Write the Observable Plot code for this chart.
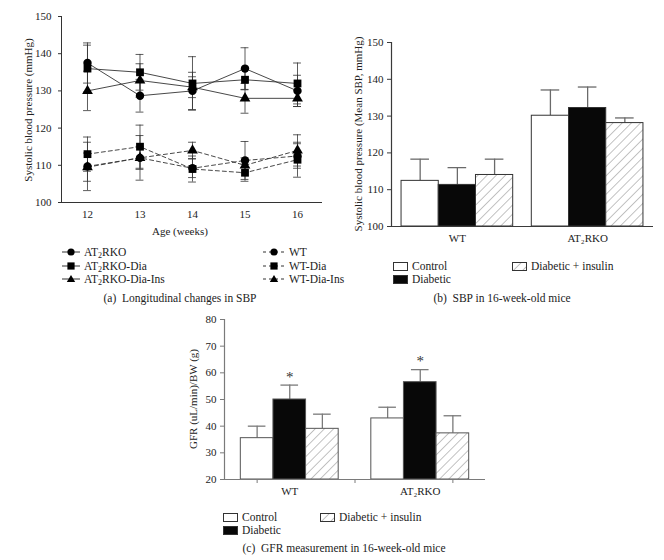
<!DOCTYPE html>
<html>
<head>
<meta charset="utf-8">
<script src="https://cdn.jsdelivr.net/npm/d3@7"></script>
<script src="https://cdn.jsdelivr.net/npm/@observablehq/plot@0.6"></script>
<style>
  html, body { margin: 0; padding: 0; background: #fff; }
  #root { position: relative; width: 664px; height: 560px; font-family: "Liberation Serif", "DejaVu Serif", serif; color: #222; overflow: hidden; }
  .ylab { position: absolute; white-space: nowrap; transform: translate(-50%, -50%) rotate(-90deg); font-size: 11px; font-family: "Liberation Serif", serif; }
  .cap { position: absolute; white-space: nowrap; transform: translate(-50%, -50%); font-size: 11.5px; font-family: "Liberation Serif", serif; }
  .leg { position: absolute; white-space: nowrap; font-size: 11.5px; line-height: 12px; transform: translateY(-50%); display: flex; align-items: center; font-family: "Liberation Serif", serif; }
  .leg svg { margin-right: 4px; }
  sub { font-size: 70%; vertical-align: -2px; line-height: 0; }
</style>
</head>
<body>
<svg width="0" height="0" style="position:absolute">
  <defs>
    <pattern id="hatch" patternUnits="userSpaceOnUse" width="6.5" height="6.5" patternTransform="rotate(45)">
      <rect width="6.5" height="6.5" fill="#fff"></rect>
      <line x1="0" y1="0" x2="0" y2="6.5" stroke="#7a7a7a" stroke-width="0.9"></line>
    </pattern>
  </defs>
</svg>
<div id="root"></div>
<script>
// ---------- Panel (a) data ----------
const weeks = [12, 13, 14, 15, 16];
const seriesNames = ["AT₂RKO", "AT₂RKO-Dia", "AT₂RKO-Dia-Ins", "WT", "WT-Dia", "WT-Dia-Ins"];
const seriesSymbols = ["circle", "square", "triangle", "circle", "square", "triangle"];
const seriesDashed = [false, false, false, true, true, true];
const sbpAT2RKO = [137.5, 128.7, 130, 136, 130];
const errAT2RKO = [5.4, 4.4, 5, 5.6, 4.2];
const sbpAT2RKODia = [136, 135, 132, 133, 132];
const errAT2RKODia = [6.3, 4.8, 7.2, 2.7, 5.5];
const sbpAT2RKODiaIns = [130, 132.8, 131, 128, 128];
const errAT2RKODiaIns = [5.3, 4.5, 2.8, 4, 2.2];
const sbpWT = [109.7, 112, 109.2, 111.3, 112.5];
const errWT = [6.5, 3.1, 2.5, 5.1, 3.3];
const sbpWTDia = [113, 115, 109, 108, 111.5];
const errWTDia = [4.6, 5.8, 3.5, 2.3, 4.7];
const sbpWTDiaIns = [109.5, 112, 114, 110, 114];
const errWTDiaIns = [3.8, 6, 2.2, 2, 4.2];
const yTicksA = [100, 110, 120, 130, 140, 150];

// ---------- Panels (b),(c) data ----------
const groups = ["WT", "AT₂RKO"];
const treatments = ["Control", "Diabetic", "Diabetic + insulin"];
const sbpWTbars = [112.4, 111.3, 114.0];
const sbpWTerr = [5.9, 4.7, 4.3];
const sbpKObars = [130.1, 132.2, 128.1];
const sbpKOerr = [7.0, 5.7, 1.4];
const yTicksB = [100, 110, 120, 130, 140, 150];

const gfrWT = [35.5, 50.0, 39.0];
const gfrWTerr = [4.5, 5.4, 5.5];
const gfrKO = [42.9, 56.5, 37.3];
const gfrKOerr = [4.2, 4.7, 6.6];
const gfrSignificant = [false, true, false];
const yTicksC = [20, 30, 40, 50, 60, 70, 80];

const fills = ["#fff", "#080808", "url(#hatch)"];

// ---------- build tables ----------
const seriesVals = [sbpAT2RKO, sbpAT2RKODia, sbpAT2RKODiaIns, sbpWT, sbpWTDia, sbpWTDiaIns];
const seriesErrs = [errAT2RKO, errAT2RKODia, errAT2RKODiaIns, errWT, errWTDia, errWTDiaIns];
const rowsA = [];
seriesNames.forEach((s, i) => weeks.forEach((w, j) => rowsA.push({
  series: s, symbol: seriesSymbols[i], dashed: seriesDashed[i], week: w, v: seriesVals[i][j], e: seriesErrs[i][j]
})));

function barRows(vals1, errs1, vals2, errs2, groupGap, sig) {
  const out = [];
  [[vals1, errs1], [vals2, errs2]].forEach(([vals, errs], g) => {
    treatments.forEach((t, k) => {
      const pos = g * (3 + groupGap) + k;
      out.push({group: groups[g], treatment: t, pos, v: vals[k], e: errs[k], fill: fills[k], sig: sig ? sig[k] : false});
    });
  });
  return out;
}
const rowsB = barRows(sbpWTbars, sbpWTerr, sbpKObars, sbpKOerr, 0.5);
const rowsC = barRows(gfrWT, gfrWTerr, gfrKO, gfrKOerr, 1, gfrSignificant);

const root = document.getElementById("root");
const baseStyle = {fontFamily: "Liberation Serif, DejaVu Serif, serif", fontSize: "11px", color: "#222", background: "transparent", overflow: "visible"};

function place(el, left, top) {
  el.style.position = "absolute";
  el.style.left = left + "px";
  el.style.top = top + "px";
  root.appendChild(el);
}

// ---------- Panel (a) ----------
const xDomA = [11.505, 16.476];
const capA = 0.075;
const solid = rowsA.filter(d => !d.dashed);
const dashed = rowsA.filter(d => d.dashed);
const plotA = Plot.plot({
  width: 330, height: 240, marginLeft: 61, marginTop: 16, marginRight: 8, marginBottom: 38,
  style: baseStyle,
  x: {domain: xDomA},
  y: {domain: [yTicksA[0], yTicksA[yTicksA.length - 1]]},
  marks: [
    Plot.axisY({ticks: yTicksA, tickSize: 3, tickPadding: 7, label: null, stroke: "#333"}),
    Plot.axisX({ticks: weeks, tickSize: 0, tickPadding: 8, label: null, tickFormat: d => String(d)}),
    Plot.ruleX([xDomA[0]], {stroke: "#333"}),
    Plot.ruleY([yTicksA[0]], {stroke: "#333"}),
    Plot.ruleX(rowsA, {x: "week", y1: d => d.v - d.e, y2: d => d.v + d.e, stroke: "#333", strokeWidth: 0.8}),
    Plot.ruleY(rowsA, {y: d => d.v + d.e, x1: d => d.week - capA, x2: d => d.week + capA, stroke: "#333", strokeWidth: 0.8}),
    Plot.ruleY(rowsA, {y: d => d.v - d.e, x1: d => d.week - capA, x2: d => d.week + capA, stroke: "#333", strokeWidth: 0.8}),
    Plot.line(solid, {x: "week", y: "v", z: "series", stroke: "#333", strokeWidth: 0.9}),
    Plot.line(dashed, {x: "week", y: "v", z: "series", stroke: "#333", strokeWidth: 0.9, strokeDasharray: "4,3"}),
    Plot.dot(rowsA.filter(d => d.symbol === "circle"), {x: "week", y: "v", symbol: "circle", fill: "#000", r: 4.2}),
    Plot.dot(rowsA.filter(d => d.symbol === "square"), {x: "week", y: "v", symbol: "square", fill: "#000", r: 4.4}),
    Plot.dot(rowsA.filter(d => d.symbol === "triangle"), {x: "week", y: "v", symbol: "triangle", fill: "#000", r: 4})
  ]
});
place(plotA, 0, 0);

// ---------- Bar panel factory ----------
function barPlot(rows, opts) {
  const y0 = opts.yTicks[0];
  return Plot.plot({
    width: opts.width, height: opts.height,
    marginLeft: opts.ml, marginTop: opts.mt, marginRight: opts.mr, marginBottom: opts.mb,
    style: baseStyle,
    x: {domain: opts.xDom},
    y: {domain: [y0, opts.yTicks[opts.yTicks.length - 1]]},
    marks: [
      Plot.axisY({ticks: opts.yTicks, tickSize: 4, tickPadding: 4, label: null, stroke: opts.axisColor}),
      ...(opts.xTickMarks ? [Plot.axisX({ticks: opts.xTickMarks, tickSize: 4, tickFormat: () => "", label: null, stroke: opts.axisColor})] : []),
      Plot.axisX({ticks: opts.labelPos, tickSize: 0, tickPadding: 8, label: null, tickFormat: (d, i) => groups[i]}),
      Plot.ruleX(rows, {x: d => d.pos + 0.5, y1: "v", y2: d => d.v + d.e, stroke: opts.errColor, strokeWidth: 1.3}),
      Plot.ruleY(rows, {y: d => d.v + d.e, x1: d => d.pos + 0.5 - opts.cap, x2: d => d.pos + 0.5 + opts.cap, stroke: opts.errColor, strokeWidth: 1.3}),
      Plot.rectY(rows, {x1: "pos", x2: d => d.pos + 1, y1: () => y0, y2: "v", fill: "fill", stroke: opts.barStroke, strokeWidth: 1}),
      Plot.ruleX([opts.xDom[0]], {stroke: opts.axisColor, strokeWidth: 1.2}),
      Plot.ruleY([y0], {stroke: opts.axisColor, strokeWidth: 1.2}),
      Plot.text(rows.filter(d => d.sig), {x: d => d.pos + 0.5, y: d => d.v + d.e, text: () => "*", dy: -8, fontSize: 15, fill: "#333"})
    ]
  });
}

// ---------- Panel (b) ----------
const plotB = barPlot(rowsB, {
  width: 324, height: 250, ml: 51, mt: 42, mr: 11, mb: 24,
  xDom: [-0.27, 6.77], yTicks: yTicksB, labelPos: [1.5, 5],
  axisColor: "#3a3a3a", errColor: "#6a6a6a", barStroke: "#333", cap: 0.25
});
place(plotB, 340, 0);

// ---------- Panel (c) ----------
const plotC = barPlot(rowsC, {
  width: 350, height: 205, ml: 84, mt: 19, mr: 5, mb: 26,
  xDom: [-0.5, 7.5], yTicks: yTicksC, labelPos: [1.5, 5.5], xTickMarks: [0.5, 3.5, 6.5],
  axisColor: "#7a7a7a", errColor: "#7a7a7a", barStroke: "#555", cap: 0.27
});
place(plotC, 140, 300);

// ---------- Text: axis titles, captions ----------
function addDiv(cls, html, left, top) {
  const d = document.createElement("div");
  d.className = cls;
  d.innerHTML = html;
  d.style.left = left + "px";
  d.style.top = top + "px";
  root.appendChild(d);
  return d;
}
addDiv("ylab", "Systolic blood pressure (mmHg)", 28, 110);
addDiv("cap", "Age (weeks)", 180, 231).style.fontSize = "11px";
addDiv("ylab", "Systolic blood pressure (Mean SBP, mmHg)", 358, 134);
addDiv("ylab", "GFR (uL/min)/BW (g)", 193, 399);
addDiv("cap", "(a)&nbsp; Longitudinal changes in SBP", 180, 298);
addDiv("cap", "(b)&nbsp; SBP in 16-week-old mice", 502, 298);
addDiv("cap", "(c)&nbsp; GFR measurement in 16-week-old mice", 344, 548);

// ---------- Legends ----------
function symPath(sym, cx, cy) {
  if (sym === "circle") return `<circle cx="${cx}" cy="${cy}" r="3.6" fill="#000"/>`;
  if (sym === "square") return `<rect x="${cx - 3.6}" y="${cy - 3.6}" width="7.2" height="7.2" fill="#000"/>`;
  return `<path d="M${cx},${cy - 4} L${cx + 4.2},${cy + 3} L${cx - 4.2},${cy + 3} Z" fill="#000"/>`;
}
function labelHTML(s) { return s.replace("₂", "<sub>2</sub>"); }
const legRowsY = [252, 266, 279];
seriesNames.forEach((s, i) => {
  const col = seriesDashed[i] ? 1 : 0;
  const row = i % 3;
  const w = col ? 22 : 18;
  const line = col
    ? `<line x1="0" y1="6" x2="${w}" y2="6" stroke="#333" stroke-width="1" stroke-dasharray="3,3"/>`
    : `<line x1="0" y1="6" x2="${w}" y2="6" stroke="#333" stroke-width="1"/>`;
  const svg = `<svg width="${w}" height="12">${line}${symPath(seriesSymbols[i], w / 2, 6)}</svg>`;
  addDiv("leg", svg + `<span>${labelHTML(s)}</span>`, col ? 263 : 62, legRowsY[row]);
});

function swatch(fill) {
  return `<svg width="15" height="9"><rect x="0.5" y="0.5" width="14" height="8" fill="${fill}" stroke="#333" stroke-width="1"/></svg>`;
}
const legB = [[393, 266], [393, 279], [512, 266]];
const legC = [[223, 517], [223, 530], [320, 517]];
treatments.forEach((t, k) => {
  addDiv("leg", swatch(fills[k]) + `<span>${t}</span>`, legB[k][0], legB[k][1]);
  addDiv("leg", swatch(fills[k]) + `<span>${t}</span>`, legC[k][0], legC[k][1]);
});
</script>
</body>
</html>
